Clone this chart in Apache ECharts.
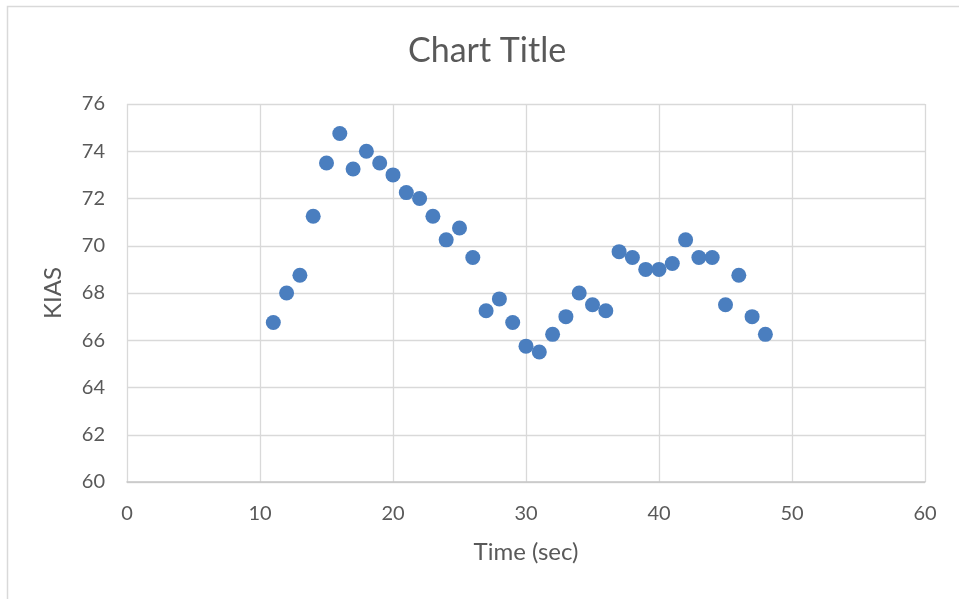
<!DOCTYPE html>
<html>
<head>
<meta charset="utf-8">
<script src="https://cdn.jsdelivr.net/npm/echarts@6/dist/echarts.min.js"></script>
<style>
  html, body { margin: 0; padding: 0; background: #fff; }
  #chart { width: 959px; height: 599px; }
</style>
</head>
<body>
<div id="chart"></div>
<script>
// Elapsed time in seconds
const timeSec = [11, 12, 13, 14, 15, 16, 17, 18, 19, 20,
                 21, 22, 23, 24, 25, 26, 27, 28, 29, 30,
                 31, 32, 33, 34, 35, 36, 37, 38, 39, 40,
                 41, 42, 43, 44, 45, 46, 47, 48];
// Indicated airspeed in knots
const kias = [66.75, 68, 68.75, 71.25, 73.5, 74.75, 73.25, 74, 73.5, 73,
              72.25, 72, 71.25, 70.25, 70.75, 69.5, 67.25, 67.75, 66.75, 65.75,
              65.5, 66.25, 67, 68, 67.5, 67.25, 69.75, 69.5, 69, 69,
              69.25, 70.25, 69.5, 69.5, 67.5, 68.75, 67, 66.25];

const points = timeSec.map((t, i) => [t, kias[i]]);

const FONT = 'Lato, "Open Sans", sans-serif';
const TEXT = '#595959';
const GRID = '#d9d9d9';

const chart = echarts.init(document.getElementById('chart'), null, { renderer: 'canvas' });
chart.setOption({
  backgroundColor: '#ffffff',
  animation: false,
  title: {
    text: 'Chart Title',
    left: 403,
    top: 29,
    textStyle: { fontFamily: FONT, fontSize: 34, fontWeight: 'normal', color: TEXT }
  },
  graphic: [{
    type: 'rect',
    shape: { x: 7.5, y: 6.5, width: 1200, height: 1200 },
    style: { fill: 'none', stroke: GRID, lineWidth: 1.5 },
    silent: true,
    z: -1
  }],
  grid: { left: 127, right: 34, top: 104, bottom: 117, containLabel: false },
  xAxis: {
    type: 'value',
    min: 0, max: 60, interval: 10,
    name: 'Time (sec)',
    nameLocation: 'middle',
    nameGap: 58,
    nameTextStyle: { fontFamily: FONT, fontSize: 24, color: TEXT },
    axisLine: { show: true, lineStyle: { color: '#c6c6c6', width: 1.5 } },
    axisTick: { show: false },
    axisLabel: { fontFamily: FONT, fontSize: 20, color: TEXT, margin: 22 },
    splitLine: { show: true, lineStyle: { color: GRID, width: 1.3 } }
  },
  yAxis: {
    type: 'value',
    min: 60, max: 76, interval: 2,
    name: 'KIAS',
    nameLocation: 'middle',
    nameGap: 62,
    nameRotate: 90,
    nameTextStyle: { fontFamily: FONT, fontSize: 24, color: TEXT },
    axisLine: { show: false },
    axisTick: { show: false },
    axisLabel: { fontFamily: FONT, fontSize: 20, color: TEXT, margin: 22 },
    splitLine: { show: true, lineStyle: { color: GRID, width: 1.3 } }
  },
  series: [{
    type: 'scatter',
    data: points,
    symbol: 'circle',
    symbolSize: 15,
    itemStyle: { color: '#4a7ebf', opacity: 1 }
  }]
});
</script>
</body>
</html>
